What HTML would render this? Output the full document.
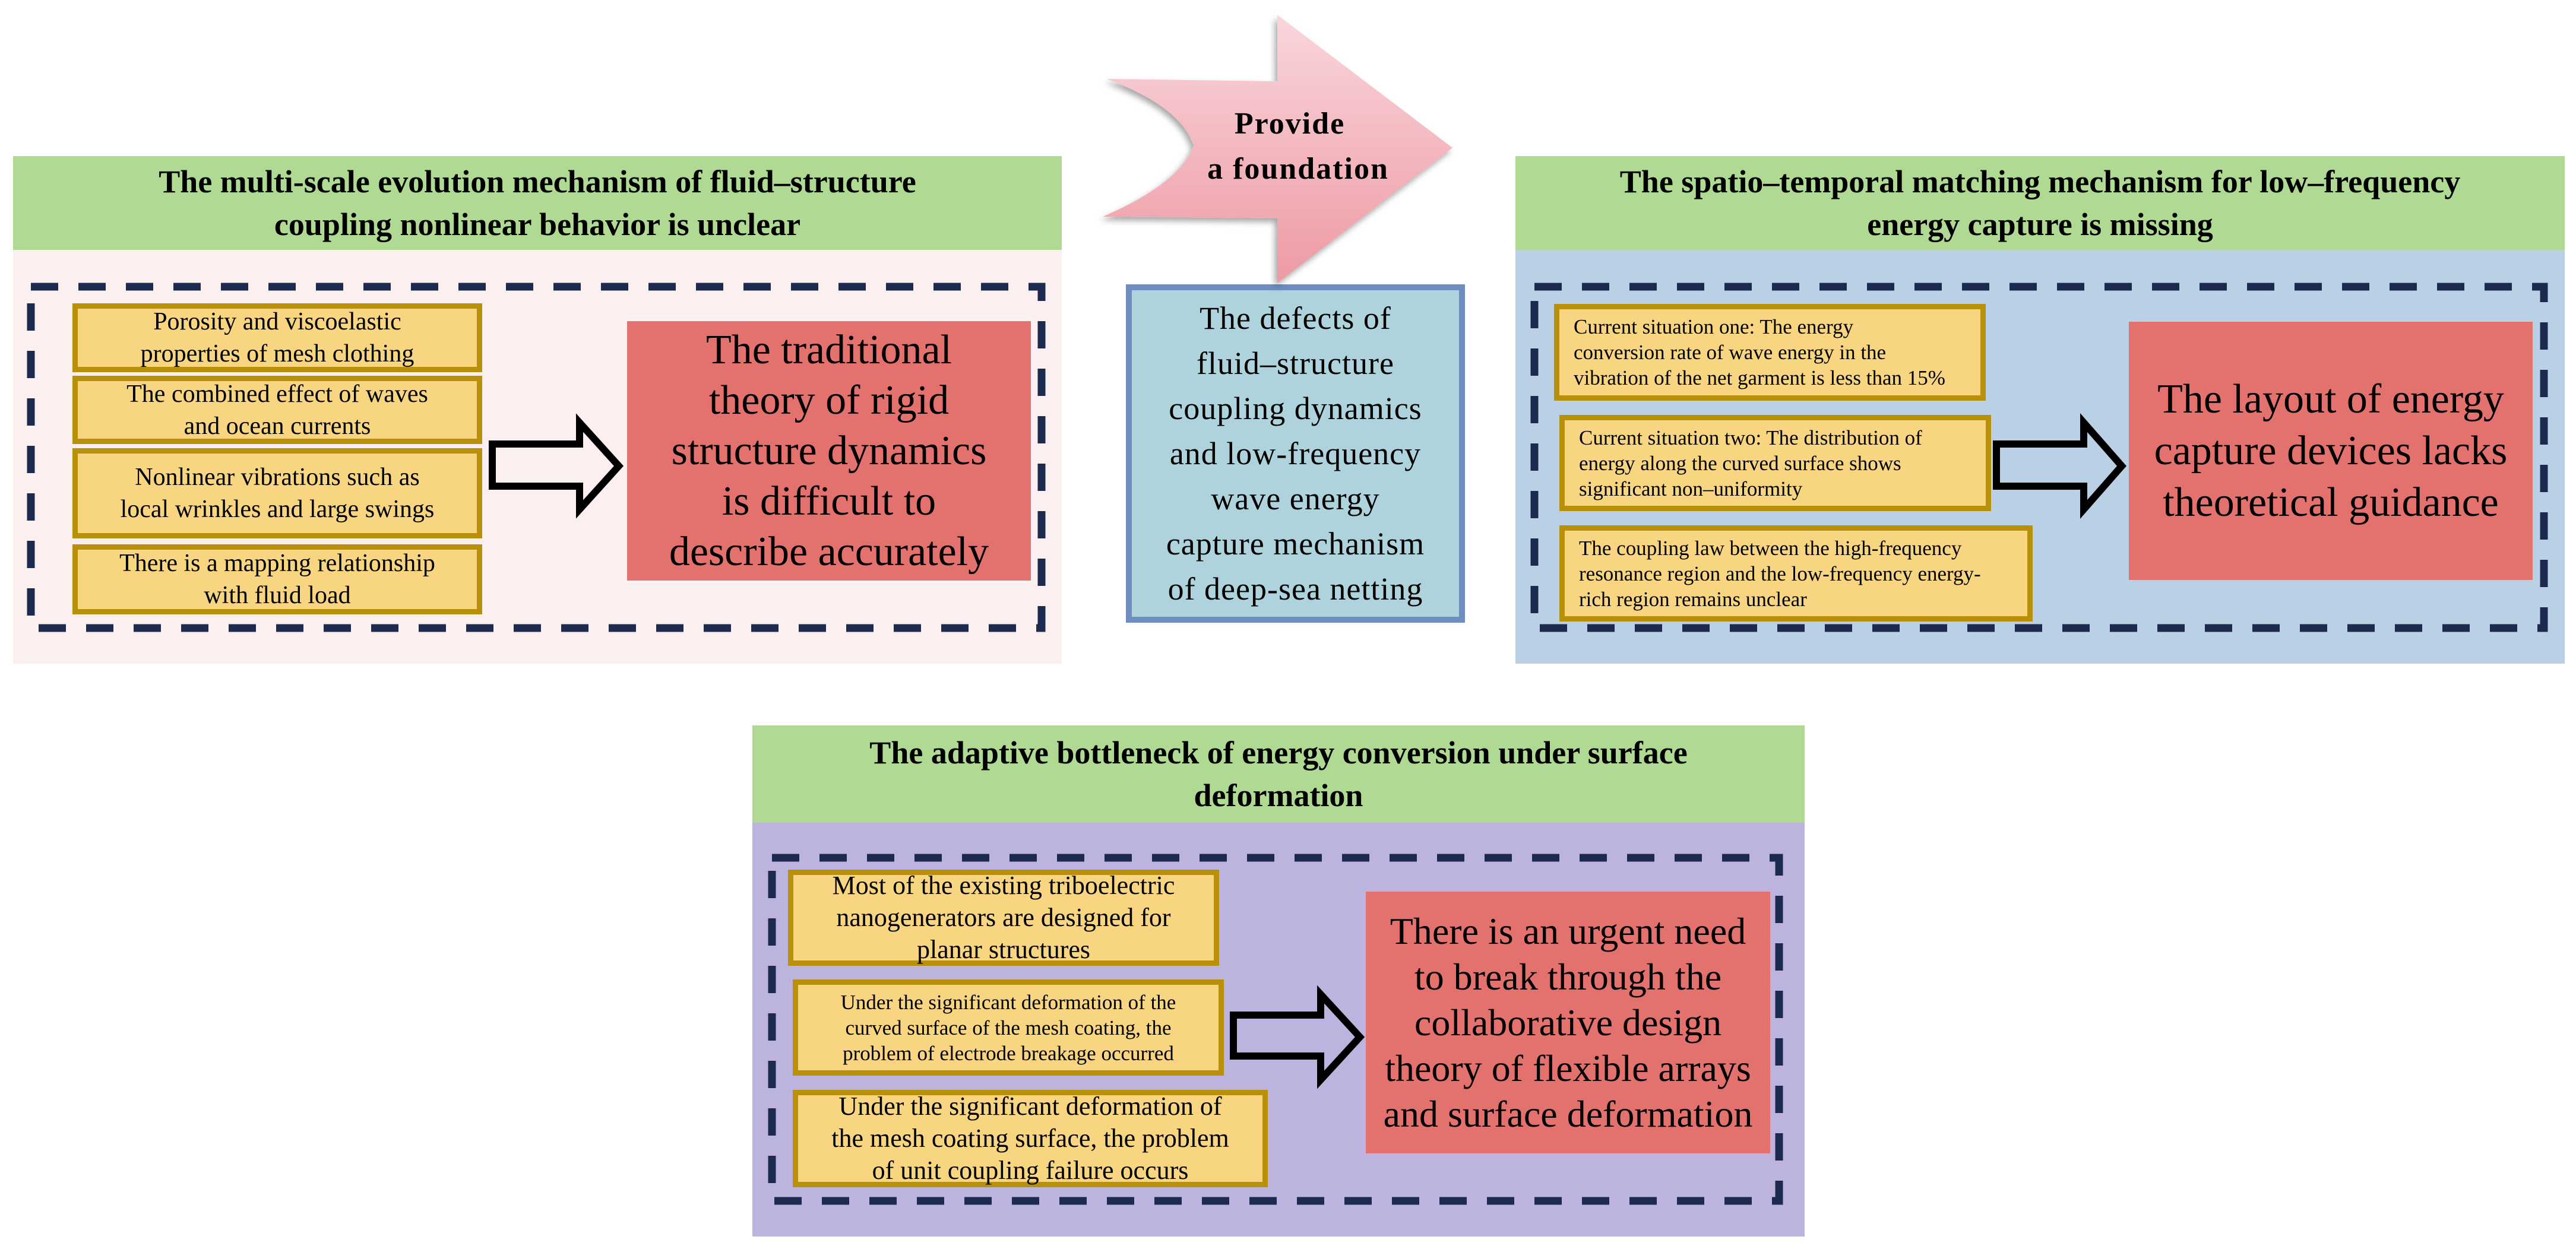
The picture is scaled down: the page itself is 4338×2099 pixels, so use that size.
<!DOCTYPE html>
<html><head><meta charset="utf-8"><style>
*{margin:0;padding:0;box-sizing:border-box}
body{width:4338px;height:2099px;background:#fff;position:relative;overflow:hidden;font-family:"Liberation Serif","Times New Roman",serif;color:#000}
.a{position:absolute}
.g{background:#b0d994;display:flex;align-items:center;justify-content:center;text-align:center;font-weight:bold;font-size:54px;line-height:72px}
.y{position:absolute;background:#f8d580;border:9px solid #b8900a;display:flex;align-items:center;justify-content:center;text-align:center;font-size:42px;line-height:54px}
.yl{justify-content:flex-start;text-align:left;padding-left:24px;font-size:35px;line-height:43px}
.r{position:absolute;background:#e3716d;display:flex;align-items:center;justify-content:center;text-align:center;font-size:68px;line-height:85px}
</style></head><body>
<!-- left panel -->
<div class="a" style="left:22px;top:421px;width:1766px;height:697px;background:#fcefef"></div>
<div class="a g" style="left:22px;top:263px;width:1766px;height:158px">The multi-scale evolution mechanism of fluid–structure<br>coupling nonlinear behavior is unclear</div>
<div class="y" style="left:122px;top:511px;width:690px;height:116px">Porosity and viscoelastic<br>properties of mesh clothing</div>
<div class="y" style="left:122px;top:633px;width:690px;height:115px">The combined effect of waves<br>and ocean currents</div>
<div class="y" style="left:122px;top:755px;width:690px;height:152px">Nonlinear vibrations such as<br>local wrinkles and large swings</div>
<div class="y" style="left:122px;top:917px;width:690px;height:118px">There is a mapping relationship<br>with fluid load</div>
<div class="r" style="left:1056px;top:541px;width:680px;height:437px;font-size:70px">The traditional<br>theory of rigid<br>structure dynamics<br>is difficult to<br>describe accurately</div>

<!-- right panel -->
<div class="a" style="left:2552px;top:421px;width:1767px;height:697px;background:#bad0e5"></div>
<div class="a g" style="left:2552px;top:263px;width:1767px;height:158px">The spatio–temporal matching mechanism for low–frequency<br>energy capture is missing</div>
<div class="y yl" style="left:2617px;top:512px;width:727px;height:163px">Current situation one: The energy<br>conversion rate of wave energy in the<br>vibration of the net garment is less than 15%</div>
<div class="y yl" style="left:2626px;top:699px;width:727px;height:162px">Current situation two: The distribution of<br>energy along the curved surface shows<br>significant non–uniformity</div>
<div class="y yl" style="left:2626px;top:885px;width:797px;height:162px">The coupling law between the high-frequency<br>resonance region and the low-frequency energy-<br>rich region remains unclear</div>
<div class="r" style="left:3585px;top:542px;width:680px;height:435px;font-size:70px;line-height:87px">The layout of energy<br>capture devices lacks<br>theoretical guidance</div>

<!-- bottom panel -->
<div class="a" style="left:1267px;top:1386px;width:1772px;height:697px;background:#bcb4de"></div>
<div class="a g" style="left:1267px;top:1222px;width:1772px;height:164px">The adaptive bottleneck of energy conversion under surface<br>deformation</div>
<div class="y" style="left:1327px;top:1465px;width:726px;height:162px;font-size:44px">Most of the existing triboelectric<br>nanogenerators are designed for<br>planar structures</div>
<div class="y" style="left:1335px;top:1650px;width:726px;height:162px;font-size:35px;line-height:43px">Under the significant deformation of the<br>curved surface of the mesh coating, the<br>problem of electrode breakage occurred</div>
<div class="y" style="left:1335px;top:1836px;width:800px;height:164px;font-size:44px">Under the significant deformation of<br>the mesh coating surface, the problem<br>of unit coupling failure occurs</div>
<div class="r" style="left:2300px;top:1502px;width:681px;height:441px;font-size:64px;line-height:77px">There is an urgent need<br>to break through the<br>collaborative design<br>theory of flexible arrays<br>and surface deformation</div>

<!-- center blue box -->
<div class="a" style="left:1896px;top:479px;width:571px;height:570px;background:#aed3dc;border:10px solid #6f8cc0;display:flex;align-items:center;justify-content:center;text-align:center;font-size:54px;line-height:76px;letter-spacing:1px">The defects of<br>fluid–structure<br>coupling dynamics<br>and low-frequency<br>wave energy<br>capture mechanism<br>of deep-sea netting</div>

<svg class="a" style="left:0;top:0" width="4338" height="2099" viewBox="0 0 4338 2099">
<defs>
<linearGradient id="pg" x1="0" y1="0" x2="0" y2="1"><stop offset="0" stop-color="#f9d6dc"/><stop offset="1" stop-color="#ee9aa3"/></linearGradient>
<filter id="sh" x="-10%" y="-10%" width="130%" height="130%"><feDropShadow dx="-4" dy="6" stdDeviation="5" flood-color="#000" flood-opacity="0.35"/></filter>
</defs>
<path d="M1864,133 L2151,137 L2151,25 L2446,249 L2151,477 L2151,368 L1857,365 Q1985,310 2010,246 Q1990,180 1864,133 Z" fill="url(#pg)" filter="url(#sh)"/>
<text x="2172" y="225" text-anchor="middle" font-family="Liberation Serif,serif" font-weight="bold" font-size="52" letter-spacing="2">Provide</text>
<text x="2186" y="301" text-anchor="middle" font-family="Liberation Serif,serif" font-weight="bold" font-size="52" letter-spacing="2">a foundation</text>
<g fill="none" stroke="#1c2a4f" stroke-width="13" stroke-dasharray="46 34">
<rect x="52" y="483" width="1702" height="575"/>
<rect x="2584" y="483" width="1700" height="575"/>
<rect x="1300" y="1445" width="1696" height="578"/>
</g>
<g fill="none" stroke="#000" stroke-width="12" stroke-linejoin="miter">
<path d="M829,748 L976,748 L976,712 L1042,785 L976,858 L976,819 L829,819 Z"/>
<path d="M3362,748 L3509,748 L3509,712 L3573,785 L3509,858 L3509,819 L3362,819 Z"/>
<path d="M2077,1710 L2224,1710 L2224,1675 L2290,1747 L2224,1819 L2224,1779 L2077,1779 Z"/>
</g>
</svg>
</body></html>
